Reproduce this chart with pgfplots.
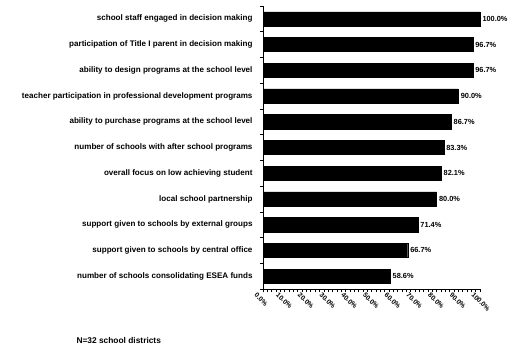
\documentclass[border=0pt]{standalone}
\usepackage{pgfplots}
\pgfplotsset{compat=1.18}
\usepackage{fontspec}
\setmainfont{Liberation Sans}
\begin{document}
\begin{tikzpicture}[x=1bp,y=1bp]
\useasboundingbox (0,0) rectangle (513,355);
\begin{axis}[
  at={(263bp,66bp)}, anchor=south west,
  scale only axis, width=217bp, height=283bp,
  xbar, bar width=0.55,
  xmin=0, xmax=100,
  ymin=-0.5, ymax=10.5,
  axis lines=left,
  axis line style={-, line width=0.8pt},
  xtick={0,10,...,100},
  xticklabels={0.0\%,10.0\%,20.0\%,30.0\%,40.0\%,50.0\%,60.0\%,70.0\%,80.0\%,90.0\%,100.0\%},
  minor x tick num=4,
  x tick label style={rotate=-45, anchor=north west, inner sep=0pt, font=\bfseries\fontsize{6.8}{8}\selectfont, xshift=-4bp, yshift=-4bp},
  ytick={0,...,10},
  yticklabels={number of schools consolidating ESEA funds,
    support given to schools by central office,
    support given to schools by external groups,
    local school partnership,
    overall focus on low achieving student,
    number of schools with after school programs,
    ability to purchase programs at the school level,
    teacher participation in professional development programs,
    ability to design programs at the school level,
    participation of Title I parent in decision making,
    school staff engaged in decision making},
  y tick label style={font=\bfseries\fontsize{8.1}{9}\selectfont, xshift=-4bp},
  minor ytick={-0.5,0.5,...,10.5},
  tick align=outside,
  major tick length=3bp,
  ytick style={draw=none},
  minor y tick style={draw=black, line width=0.6pt},
  minor tick length=3bp,
  x tick style={black, line width=0.5pt},
  minor x tick style={black, line width=0.5pt},
  /pgf/number format/assume math mode=true,
  nodes near coords={\pgfmathprintnumber[fixed,fixed zerofill,precision=1,assume math mode=true]{\pgfplotspointmeta}\%},
  point meta=x,
  every node near coord/.append style={font=\bfseries\fontsize{7.4}{8}\selectfont, xshift=-1bp},
  clip=false,
]
\addplot[fill=black, draw=black] coordinates {
(58.6,0) (66.7,1) (71.4,2) (80.0,3) (82.1,4) (83.3,5) (86.7,6) (90.0,7) (96.7,8) (96.7,9) (100.0,10)
};
\end{axis}
\node[anchor=base west, font=\bfseries\fontsize{8.4}{9}\selectfont] at (73,12) {N=32 school districts};
\end{tikzpicture}
\end{document}
